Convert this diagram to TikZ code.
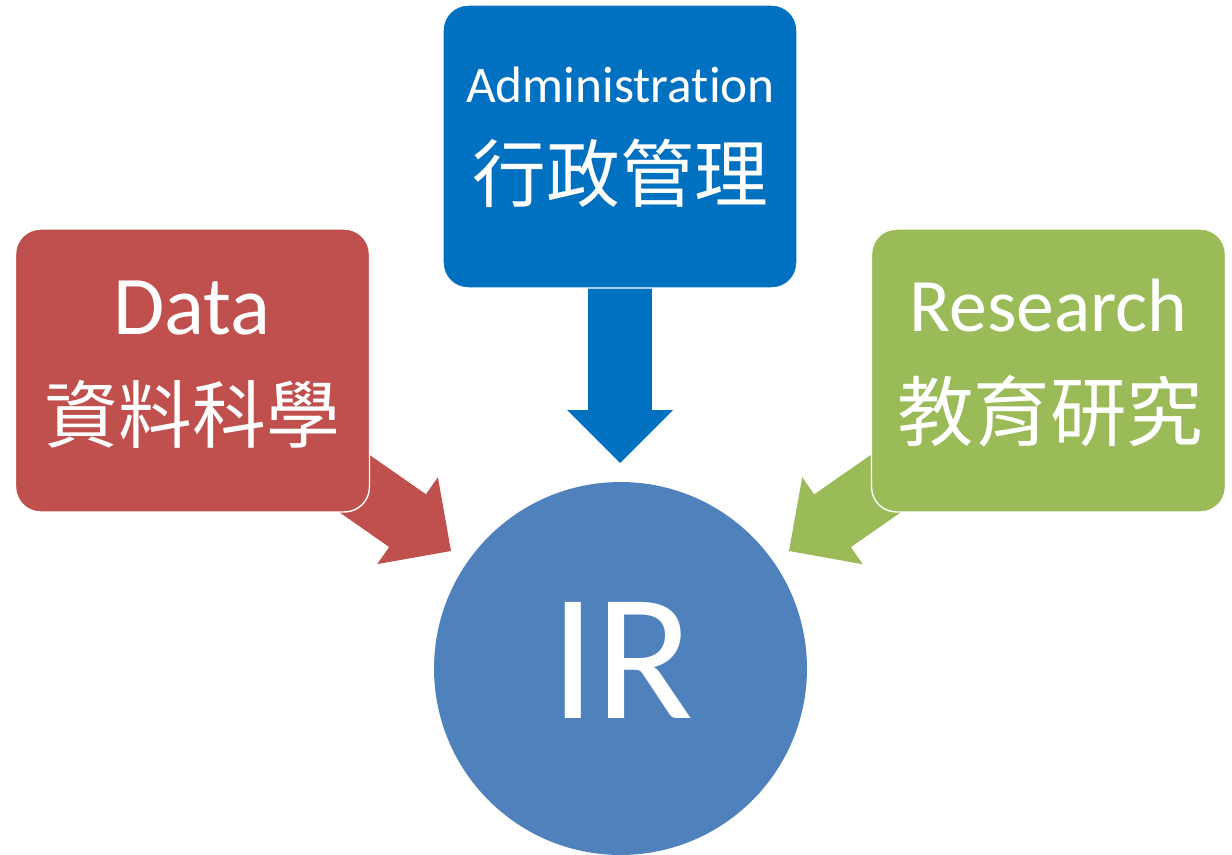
\documentclass[tikz,border=0pt]{standalone}
\usepackage{fontspec}
\setmainfont{Carlito}[Ligatures=NoCommon]
\newfontfamily\cjk{Noto Sans CJK TC}
\usetikzlibrary{arrows.meta,backgrounds}
\definecolor{admblue}{HTML}{0070C0}
\definecolor{datared}{HTML}{C0504D}
\definecolor{resgreen}{HTML}{9BBB59}
\definecolor{irblue}{HTML}{4F81BD}

\begin{document}
\begin{tikzpicture}[x=0.02cm,y=-0.02cm,
		box/.style={rectangle,rounded corners=0.5cm,draw=white,line width=0.8pt,minimum width=7.08cm,minimum height=5.66cm},
		en/.style={anchor=base,text=white,inner sep=0pt},
		zh/.style={anchor=base,text=white,inner sep=0pt,font=\cjk\fontsize{42}{42}\selectfont},
		fat/.style={line width=1.28cm,-{Triangle[width=2.12cm,length=1.06cm,line width=0pt]}},
		body/.style={line width=1.28cm,shorten >=0.98cm}]
			\useasboundingbox (0,0) rectangle (1232,855);

			\node[box,fill=admblue] (adm) at (620,146.5) {};
			\node[box,fill=datared] (data) at (192.5,370.5) {};
			\node[box,fill=resgreen] (res) at (1048.5,370.5) {};
			\node[circle,fill=irblue,minimum size=7.46cm,inner sep=0pt] (ir) at (620.5,668.5) {};

			\node[en,font=\fontsize{29.2}{30}\selectfont] (admen) at (620.5,103) {Administration};
			\node[zh] (admzh) at (620.5,202) {行政管理};
			\node[en,font=\fontsize{47.5}{50}\selectfont] (dataen) at (192,335) {Data};
			\node[zh] (datazh) at (192.5,442) {資料科學};
			\node[en,font=\fontsize{43}{45}\selectfont] (resen) at (1048.5,332) {Research};
			\node[zh,font=\cjk\fontsize{43.5}{44}\selectfont] (reszh) at (1050,440) {教育研究};
			\node[en,font=\fontsize{103}{105}\selectfont] (iren) at (622,718) {IR};

			\coordinate (admtip) at (620,463);
			\coordinate (datatip) at (451,551);
			\coordinate (restip) at (789,551);

			\begin{scope}[on background layer]
				\draw[fat,admblue] (adm.center) -- (admtip);
				\draw[fat,datared] (data.center) -- (datatip);
				\draw[body,datared] (data.center) -- (datatip);
				\draw[fat,resgreen] (res.center) -- (restip);
				\draw[body,resgreen] (res.center) -- (restip);
			\end{scope}
		\end{tikzpicture}
\end{document}
